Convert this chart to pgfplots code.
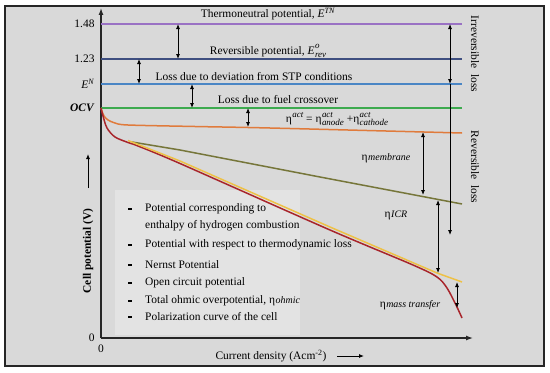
\documentclass[border=0pt]{standalone}
\usepackage{pgfplots}
\pgfplotsset{compat=1.18}
\usepackage{fontspec}
\setmainfont{Liberation Serif}
\usetikzlibrary{arrows.meta}
\definecolor{bg}{HTML}{D9D9D9}
\definecolor{legbg}{HTML}{E3E3E3}
\definecolor{cpurple}{HTML}{9A72C4}
\definecolor{cnavy}{HTML}{3F4F80}
\definecolor{cblue}{HTML}{4A86C5}
\definecolor{cgreen}{HTML}{3DAA4F}
\definecolor{corange}{HTML}{E07B3C}
\definecolor{colive}{HTML}{76763A}
\definecolor{cyellow}{HTML}{EEC146}
\definecolor{cred}{HTML}{A8252B}
\newcommand{\fs}{\fontsize{11.5}{13}\selectfont}
\newcommand{\sm}{\fontsize{9}{10}\selectfont\itshape}
% eta with stacked superscript (#2) and subscript (#1); subscript is the longer one
\newcommand{\ET}[2]{η\kern0.5pt\makebox[0pt][l]{\raisebox{5.5pt}{\sm #2}}\raisebox{-3pt}{\sm #1}}
\newcommand{\ETsup}[1]{η\kern0.5pt\raisebox{5.5pt}{\sm #1}}
\newcommand{\ES}[1]{η\kern0.5pt{\fontsize{10}{11}\selectfont\itshape #1}}
\begin{document}
\begin{tikzpicture}[x=1bp,y=1bp]
\fill[white] (0,0) rectangle (550,372);
\draw[line width=1.5bp, fill=bg, draw=black!85] (5,6) rectangle (544,366);
\fill[legbg] (115,37) rectangle (300,182);
\begin{axis}[
  at={(101bp,34bp)}, anchor=south west,
  scale only axis, width=372bp, height=330bp,
  xmin=0, xmax=372, ymin=0, ymax=330,
  axis lines=left,
  axis line style={line width=1.3bp, black!85, -{Latex[length=7bp,width=5bp]}},
  clip=false,
  xtick={0}, xticklabels={0},
  ytick={0,230,254,279,314},
  yticklabels={0,\textbf{\textit{OCV}},\textit{E}\textsuperscript{\textit{N}},1.23,1.48},
  major tick length=0,
  tick label style={font=\fs},
  yticklabel style={xshift=-3bp},
  xticklabel style={yshift=-3bp},
  every axis plot/.append style={line width=1.5bp, no markers},
]
% horizontal potential levels
\addplot[cpurple] coordinates {(0,314) (361,314)};
\addplot[cnavy] coordinates {(0,279) (361,279)};
\addplot[cblue] coordinates {(0,254) (361,254)};
\addplot[cgreen] coordinates {(0,230) (361,230)};
% activation
\addplot[corange, smooth] coordinates {(0,230) (1,227) (3,222) (7,218) (14,215) (27,213) (94,211.5) (169,210) (361,205)};
% membrane (olive)
\addplot[colive] coordinates {(31,196) (79,188) (219,161) (361,134)};
% polarization curve (red)
\addplot[cred, smooth] coordinates {(0,230) (2,222) (6,210) (14,201) (27,195.5) (37,192) (79,174.5) (229,108) (312,73) (336,61) (346,50) (355,33) (361,20)};
% total ohmic (yellow)
\addplot[cyellow] coordinates {(27,197.5) (79,177) (229,111) (336,65) (361,56)};

% annotation arrows
\begin{scope}[line width=0.8bp, black]
\draw[{Latex[length=5bp,width=4bp]}-{Latex[length=5bp,width=4bp]}] (axis cs:77,314) -- (axis cs:77,279);
\draw[{Latex[length=5bp,width=4bp]}-{Latex[length=5bp,width=4bp]}] (axis cs:38,279) -- (axis cs:38,254);
\draw[{Latex[length=5bp,width=4bp]}-{Latex[length=5bp,width=4bp]}] (axis cs:91,254) -- (axis cs:91,230);
\draw[{Latex[length=5bp,width=4bp]}-{Latex[length=5bp,width=4bp]}] (axis cs:147,230) -- (axis cs:147,211);
\draw[{Latex[length=5bp,width=4bp]}-{Latex[length=5bp,width=4bp]}] (axis cs:322,206) -- (axis cs:322,143);
\draw[{Latex[length=5bp,width=4bp]}-{Latex[length=5bp,width=4bp]}] (axis cs:337,138) -- (axis cs:337,65);
\draw[{Latex[length=5bp,width=4bp]}-{Latex[length=5bp,width=4bp]}] (axis cs:356,56) -- (axis cs:356,30);
\draw[{Latex[length=5bp,width=4bp]}-{Latex[length=5bp,width=4bp]}] (axis cs:349,314) -- (axis cs:349,254);
\draw[-{Latex[length=5bp,width=4bp]}] (axis cs:349,254) -- (axis cs:349,103);
\end{scope}

% labels
\node[font=\fs] at (axis cs:167,324) {Thermoneutral potential, \textit{E}\textsuperscript{\textit{TN}}};
\node[font=\fs] at (axis cs:167,287) {Reversible potential, \textit{E}\kern0.5pt\makebox[0pt][l]{\raisebox{5.5pt}{\sm o}}\raisebox{-3pt}{\sm rev}};
\node[font=\fs] at (axis cs:153,261) {Loss due to deviation from STP conditions};
\node[font=\fs] at (axis cs:177,238) {Loss due to fuel crossover};
\node[font=\fs, inner sep=0pt] at (axis cs:236,219) {\ETsup{act} = \ET{anode}{act} +\ET{cathode}{act}};
\node[font=\fs] at (axis cs:285,180) {\ES{membrane}};
\node[font=\fs] at (axis cs:295,123) {\ES{ICR}};
\node[font=\fs] at (axis cs:309,33) {\ES{mass transfer}};
\node[font=\fs, rotate=-90] at (axis cs:374,284) {Irreversible\ \ loss};
\node[font=\fs, rotate=-90] at (axis cs:374,171) {Reversible\ \ loss};

% axis titles
\node[font=\fs\bfseries, rotate=90] at (axis cs:-13,87) {Cell potential (V)};
\draw[line width=0.9bp, -{Latex[length=5bp,width=4bp]}] (axis cs:-13,150) -- (axis cs:-13,184);
\node[font=\fs] at (axis cs:170,-18) {Current density (Acm\textsuperscript{-2})};
\draw[line width=0.9bp, -{Latex[length=5bp,width=4bp]}] (axis cs:236,-18) -- (axis cs:263,-18);

% legend text
\begin{scope}[every node/.style={font=\fs, anchor=west, inner sep=0pt}]
\node at (axis cs:44,129) {Potential corresponding to};
\node at (axis cs:44,112) {enthalpy of hydrogen combustion};
\node at (axis cs:44,93) {Potential with respect to thermodynamic loss};
\node at (axis cs:44,73) {Nernst Potential};
\node at (axis cs:44,55) {Open circuit potential};
\node at (axis cs:44,37) {Total ohmic overpotential, \ES{ohmic}};
\node at (axis cs:44,21) {Polarization curve of the cell};
\end{scope}
\draw[line width=1.6bp] (axis cs:27,129) -- (axis cs:31,129);
\draw[line width=1.6bp] (axis cs:27,93) -- (axis cs:31,93);
\draw[line width=1.6bp] (axis cs:27,73) -- (axis cs:31,73);
\draw[line width=1.6bp] (axis cs:27,55) -- (axis cs:31,55);
\draw[line width=1.6bp] (axis cs:27,37) -- (axis cs:31,37);
\draw[line width=1.6bp] (axis cs:27,21) -- (axis cs:31,21);
\end{axis}
\end{tikzpicture}
\end{document}
